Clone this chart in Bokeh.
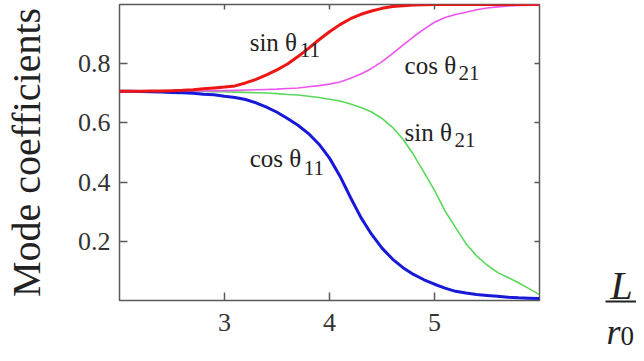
from bokeh.plotting import figure
from bokeh.layouts import row
from bokeh.models import LinearAxis, FixedTicker, Label, BoxAnnotation
from bokeh.embed import file_html
from bokeh.resources import INLINE

# ---- data ----
L_over_r0 = [2.0, 2.1, 2.2, 2.3, 2.4, 2.5, 2.6, 2.7, 2.8, 2.9,
             3.0, 3.1, 3.2, 3.3, 3.4, 3.5, 3.6, 3.7, 3.8, 3.9,
             4.0, 4.1, 4.2, 4.3, 4.4, 4.5, 4.6, 4.7, 4.8, 4.9,
             5.0, 5.1, 5.2, 5.3, 5.4, 5.5, 5.6, 5.7, 5.8, 5.9, 6.0]

sin_theta11 = [0.707, 0.707, 0.707, 0.708, 0.708, 0.709, 0.710, 0.712, 0.715, 0.718,
               0.721, 0.725, 0.735, 0.747, 0.762, 0.779, 0.799, 0.824, 0.852, 0.881,
               0.908, 0.932, 0.952, 0.967, 0.978, 0.987, 0.993, 0.996, 0.998, 0.999,
               1.000, 1.000, 1.000, 1.000, 1.000, 1.000, 1.000, 1.000, 1.000, 1.000, 1.000]

cos_theta11 = [0.707, 0.707, 0.706, 0.705, 0.704, 0.703, 0.702, 0.700, 0.697, 0.695,
               0.690, 0.686, 0.679, 0.668, 0.653, 0.636, 0.615, 0.592, 0.564, 0.528,
               0.481, 0.420, 0.348, 0.280, 0.224, 0.177, 0.140, 0.111, 0.088, 0.070,
               0.055, 0.042, 0.031, 0.025, 0.020, 0.017, 0.014, 0.011, 0.009, 0.008, 0.007]

cos_theta21 = [0.707, 0.707, 0.707, 0.707, 0.707, 0.707, 0.707, 0.708, 0.708, 0.709,
               0.709, 0.710, 0.711, 0.712, 0.713, 0.714, 0.716, 0.718, 0.722, 0.726,
               0.731, 0.738, 0.751, 0.765, 0.784, 0.807, 0.834, 0.863, 0.891, 0.917,
               0.940, 0.956, 0.966, 0.974, 0.982, 0.988, 0.992, 0.995, 0.997, 0.998, 0.999]

sin_theta21 = [0.707, 0.707, 0.707, 0.707, 0.707, 0.707, 0.707, 0.706, 0.706, 0.705,
               0.705, 0.704, 0.703, 0.702, 0.701, 0.699, 0.696, 0.694, 0.690, 0.686,
               0.680, 0.674, 0.664, 0.652, 0.637, 0.615, 0.585, 0.545, 0.493, 0.433,
               0.372, 0.303, 0.247, 0.192, 0.151, 0.120, 0.095, 0.078, 0.060, 0.040, 0.020]

x_ticks = [3, 4, 5]
y_ticks = [0.2, 0.4, 0.6, 0.8]
y_title = "Mode coefficients"

SERIF = "Liberation Serif"
FRAME = "#5a5a5a"
INK = "#222222"

fig = figure(width=560, height=353, x_range=(2, 6), y_range=(0, 1),
             output_backend="svg", toolbar_location=None, title=None,
             min_border_left=119, min_border_right=21,
             min_border_top=4, min_border_bottom=53,
             outline_line_color=FRAME, outline_line_width=1.5,
             background_fill_color="white", border_fill_color="white")
fig.xgrid.visible = False
fig.ygrid.visible = False

# bottom axis
xa = fig.xaxis[0]
xa.ticker = FixedTicker(ticks=x_ticks)
xa.axis_line_color = None
xa.major_tick_in = 8
xa.major_tick_out = 0
xa.minor_tick_in = 0
xa.minor_tick_out = 0
xa.major_tick_line_color = FRAME
xa.major_tick_line_width = 1.5
xa.major_label_text_font = SERIF
xa.major_label_text_font_size = "26px"
xa.major_label_text_color = "#333333"
xa.major_label_standoff = 13

# left axis
ya = fig.yaxis[0]
ya.ticker = FixedTicker(ticks=y_ticks)
ya.axis_line_color = None
ya.major_tick_in = 8
ya.major_tick_out = 0
ya.minor_tick_in = 0
ya.minor_tick_out = 0
ya.major_tick_line_color = FRAME
ya.major_tick_line_width = 1.5
ya.major_label_text_font = SERIF
ya.major_label_text_font_size = "26px"
ya.major_label_text_color = "#333333"
ya.major_label_standoff = 9
ya.axis_label = y_title
ya.axis_label_text_font = SERIF
ya.axis_label_text_font_size = "40px"
ya.axis_label_text_font_style = "normal"
ya.axis_label_text_color = INK
ya.axis_label_standoff = 26

# top / right axes: inward ticks only
top = LinearAxis(ticker=FixedTicker(ticks=x_ticks), axis_line_color=None,
                 major_tick_in=5, major_tick_out=0, minor_tick_in=0, minor_tick_out=0,
                 major_tick_line_color=FRAME, major_tick_line_width=1.5,
                 major_label_text_font_size="1px", major_label_text_color=None,
                 major_label_standoff=0)
right = LinearAxis(ticker=FixedTicker(ticks=y_ticks), axis_line_color=None,
                   major_tick_in=5, major_tick_out=0, minor_tick_in=0, minor_tick_out=0,
                   major_tick_line_color=FRAME, major_tick_line_width=1.5,
                   major_label_text_font_size="1px", major_label_text_color=None,
                   major_label_standoff=0)
fig.add_layout(top, "above")
fig.add_layout(right, "right")

# curves
fig.line(L_over_r0, sin_theta21, line_color="#5ad85a", line_width=1.6)
fig.line(L_over_r0, cos_theta21, line_color="#ee55ee", line_width=1.6)
fig.line(L_over_r0, cos_theta11, line_color="#1818d8", line_width=3)
fig.line(L_over_r0, sin_theta11, line_color="#ee1515", line_width=3)

# curve labels
def add_label(x, y, main, sub, sub_dx, y_sub):
    fig.add_layout(Label(x=x, y=y, text=main, text_font=SERIF, text_font_size="25px",
                         text_color=INK, text_baseline="alphabetic"))
    fig.add_layout(Label(x=x, y=y_sub, x_offset=sub_dx, text=sub, text_font=SERIF,
                         text_font_size="21px", text_color=INK,
                         text_baseline="alphabetic"))

add_label(3.24, 0.873, "sin θ", "11", 50, 0.845)
add_label(4.715, 0.794, "cos θ", "21", 54, 0.767)
add_label(4.715, 0.569, "sin θ", "21", 50, 0.541)
add_label(3.24, 0.480, "cos θ", "11", 54, 0.449)

# x axis title  L / r0, drawn in a narrow panel right of the frame
side = figure(width=76, height=353, x_range=(0, 76), y_range=(0, 353),
              output_backend="svg", toolbar_location=None, title=None,
              min_border=0, min_border_left=0, min_border_right=0,
              min_border_top=0, min_border_bottom=0,
              x_axis_location=None, y_axis_location=None,
              outline_line_color=None, background_fill_color="white",
              border_fill_color="white")
try:
    side.frame_align = False
except Exception:
    pass
side.xgrid.visible = False
side.ygrid.visible = False
side.add_layout(Label(x=50, y=68, text="L", text_font=SERIF, text_font_style="italic",
                      text_font_size="40px", text_color=INK, text_baseline="alphabetic"))
side.add_layout(BoxAnnotation(left=45, right=76, bottom=51, top=53,
                              fill_color=INK, fill_alpha=1, line_color=None))
side.add_layout(Label(x=46, y=22, text="r", text_font=SERIF, text_font_style="italic",
                      text_font_size="36px", text_color=INK, text_baseline="alphabetic"))
side.add_layout(Label(x=60, y=18, text="0", text_font=SERIF,
                      text_font_size="27px", text_color=INK, text_baseline="alphabetic"))

p = row(fig, side, spacing=0)

open("out.html", "w").write(file_html(p, INLINE))
